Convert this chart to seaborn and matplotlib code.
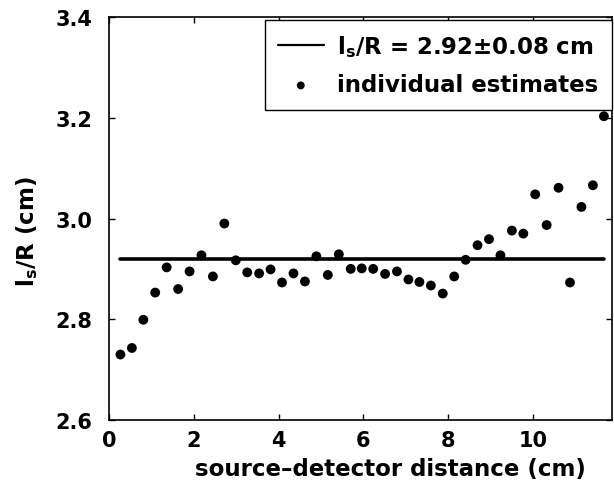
import matplotlib
matplotlib.use('Agg')
import matplotlib.pyplot as plt
import seaborn as sns
import pandas as pd

# values
distance_cm = [0.27, 0.54, 0.81, 1.09, 1.36, 1.63, 1.90, 2.18, 2.45, 2.72,
               2.99, 3.26, 3.54, 3.81, 4.08, 4.35, 4.62, 4.89, 5.16, 5.42,
               5.70, 5.96, 6.23, 6.51, 6.79, 7.06, 7.32, 7.59, 7.87, 8.14,
               8.41, 8.69, 8.96, 9.23, 9.50, 9.77, 10.05, 10.32, 10.60, 10.87,
               11.14, 11.41, 11.67]
ls_over_r = [2.730, 2.743, 2.799, 2.853, 2.903, 2.860, 2.895, 2.927, 2.885, 2.990,
             2.917, 2.893, 2.891, 2.899, 2.873, 2.891, 2.875, 2.925, 2.888, 2.929,
             2.900, 2.901, 2.900, 2.890, 2.895, 2.879, 2.874, 2.867, 2.851, 2.885,
             2.918, 2.947, 2.959, 2.927, 2.976, 2.970, 3.048, 2.987, 3.061, 2.873,
             3.023, 3.066, 3.203]
fit_value = 2.92
fit_error = 0.08
x_ticks = [0, 2, 4, 6, 8, 10]
y_ticks = [2.6, 2.8, 3.0, 3.2, 3.4]

sns.set_style('ticks')
plt.rcParams['font.family'] = ['DejaVu Sans']
plt.rcParams['font.weight'] = 'bold'
plt.rcParams['mathtext.default'] = 'bf'
for key in ['text.color', 'axes.labelcolor', 'xtick.color', 'ytick.color',
            'axes.edgecolor']:
    plt.rcParams[key] = 'black'

df = pd.DataFrame({'distance': distance_cm, 'ratio': ls_over_r})
fit_df = pd.DataFrame({'distance': [distance_cm[0], distance_cm[-1]],
                       'ratio': [fit_value, fit_value]})

fig, ax = plt.subplots(figsize=(6.14, 4.81), dpi=100)
fig.subplots_adjust(left=0.1775, right=0.9967, bottom=0.1247, top=0.9626)

sns.lineplot(data=fit_df, x='distance', y='ratio', color='black', lw=2.6,
             label=f'$l_s$/R = {fit_value:.2f}±{fit_error:.2f} cm', ax=ax)
sns.scatterplot(data=df, x='distance', y='ratio', color='black', s=50,
                edgecolor='none', label='individual estimates', ax=ax)

ax.set_xlim(0, 11.86)
ax.set_ylim(2.6, 3.4)
ax.set_xticks(x_ticks)
ax.set_yticks(y_ticks)
ax.set_xticklabels([str(t) for t in x_ticks])
ax.set_yticklabels([f'{t:.1f}' for t in y_ticks])
ax.tick_params(direction='in', length=4, width=1, top=True, right=True,
               labelsize=15, colors='black')
ax.tick_params(axis='x', pad=7)
ax.tick_params(axis='y', pad=12)
for sp in ax.spines.values():
    sp.set_linewidth(1.2)
    sp.set_color('black')

ax.set_xlabel('source–detector distance (cm)', fontsize=16.5, fontweight='bold')
ax.set_ylabel('$l_s$/R (cm)', fontsize=16.5, fontweight='bold')
ax.xaxis.set_label_coords(0.559, -0.092)
ax.yaxis.set_label_coords(-0.137, 0.47)

leg = ax.legend(loc='upper right', bbox_to_anchor=(1.0, 0.9925), borderaxespad=0,
                frameon=True, fancybox=False, framealpha=1, edgecolor='black',
                prop={'weight': 'bold', 'size': 16.5}, handlelength=2.0,
                handletextpad=0.6, labelspacing=0.62, borderpad=0.58,
                markerscale=0.8)
leg.get_frame().set_linewidth(1.0)
leg.get_lines()[0].set_linewidth(1.6)

fig.savefig('out.png', dpi=100)
